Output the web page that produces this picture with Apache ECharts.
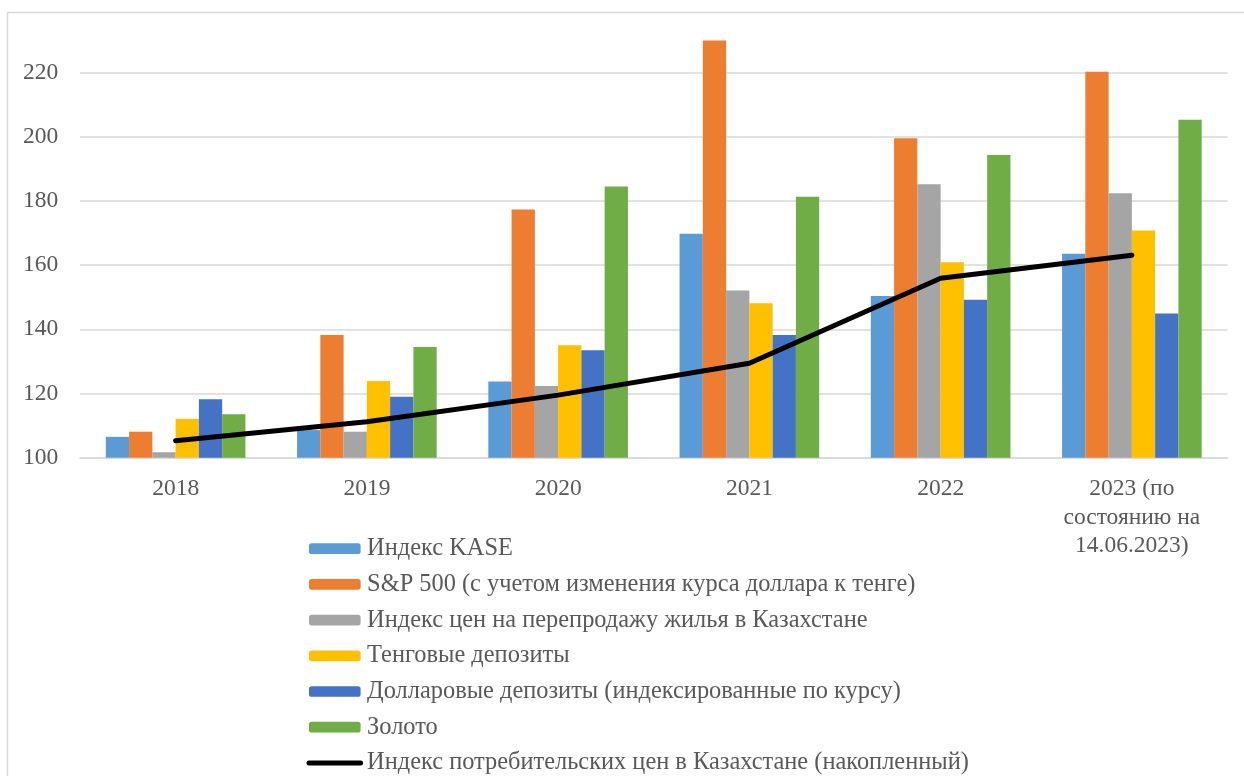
<!DOCTYPE html>
<html>
<head>
<meta charset="utf-8">
<title>chart</title>
<script src="https://cdn.jsdelivr.net/npm/echarts@6/dist/echarts.min.js"></script>
<style>
  html, body { margin: 0; padding: 0; background: #fff; }
  #chart { width: 1244px; height: 776px; }
</style>
</head>
<body>
<div id="chart"></div>
<script>
const categories = ['2018', '2019', '2020', '2021', '2022', '2023 (по\nсостоянию на\n14.06.2023)']

const kase = [106.5, 108.6, 123.7, 169.8, 150.4, 163.5]
const sp500 = [108.1, 138.2, 177.3, 230, 199.5, 220.2]
const housing = [101.7, 108.1, 122.3, 152.1, 185.2, 182.4]
const tengeDeposits = [112.1, 123.9, 135.0, 148.1, 160.9, 170.8]
const dollarDeposits = [118.2, 119.0, 133.5, 138.2, 149.2, 144.9]
const gold = [113.5, 134.5, 184.5, 181.3, 194.3, 205.3]
const cpi = [105.3, 111.2, 119.5, 129.4, 155.9, 163.1]

const yMin = 100
const yMax = 230
const yStep = 20

const font = "'Liberation Serif', 'Times New Roman', serif"
const textColor = '#595959'

const names = [
  'Индекс KASE',
  'S&P 500 (с учетом изменения курса доллара к тенге)',
  'Индекс цен на перепродажу жилья в Казахстане',
  'Тенговые депозиты',
  'Долларовые депозиты (индексированные по курсу)',
  'Золото',
  'Индекс потребительских цен в Казахстане (накопленный)'
]
const colors = ['#5b9bd5', '#ed7d31', '#a5a5a5', '#ffc000', '#4472c4', '#70ad47']

let myChart = echarts.init(document.getElementById('chart'))

function barSeries(i, data) {
  return {
    name: names[i],
    type: 'bar',
    barGap: '0%',
    barCategoryGap: '27%',
    itemStyle: { color: colors[i] },
    data: data
  }
}

let option = {
  animation: false,
  textStyle: { fontFamily: font },
  graphic: [
    {
      // рамка области диаграммы
      type: 'rect',
      silent: true,
      shape: { x: 7.5, y: 12.5, width: 1400, height: 1000 },
      style: { fill: 'none', stroke: '#d9d9d9', lineWidth: 1.5 }
    }
  ],
  grid: {
    left: 80,
    right: 16.5,
    top: 40.4,
    bottom: 318.3,
    containLabel: false
  },
  legend: {
    orient: 'vertical',
    left: 306.5,
    top: 536.7,
    height: 320,
    padding: 0,
    itemWidth: 51.6,
    itemHeight: 10.7,
    itemGap: 11.7,
    selectedMode: false,
    data: names.slice(0, 6).concat([
      {
        name: names[6],
        itemStyle: { opacity: 0 },
        lineStyle: { width: 5, cap: 'round', color: '#000' }
      }
    ]),
    textStyle: {
      color: textColor,
      fontFamily: font,
      fontSize: 24.4,
      lineHeight: 24,
      padding: [0, 0, 0, 1.5]
    }
  },
  xAxis: {
    type: 'category',
    data: categories,
    axisTick: { show: false },
    axisLine: { lineStyle: { color: '#d9d9d9', width: 1.5 } },
    axisLabel: {
      color: textColor,
      fontFamily: font,
      fontSize: 23.5,
      lineHeight: 28.5,
      margin: 17,
      interval: 0
    }
  },
  yAxis: {
    type: 'value',
    min: yMin,
    max: yMax,
    interval: yStep,
    axisLine: { show: false },
    axisTick: { show: false },
    axisLabel: {
      color: textColor,
      fontFamily: font,
      fontSize: 23.5,
      margin: 21.7,
      showMaxLabel: false
    },
    splitLine: {
      showMaxLine: false,
      lineStyle: { color: '#d9d9d9', width: 1.5 }
    }
  },
  series: [
    barSeries(0, kase),
    barSeries(1, sp500),
    barSeries(2, housing),
    barSeries(3, tengeDeposits),
    barSeries(4, dollarDeposits),
    barSeries(5, gold),
    {
      name: names[6],
      type: 'line',
      symbol: 'none',
      z: 5,
      itemStyle: { color: '#000' },
      lineStyle: { color: '#000', width: 5, cap: 'round', join: 'round' },
      data: cpi
    }
  ]
}

myChart.setOption(option)
</script>
</body>
</html>
